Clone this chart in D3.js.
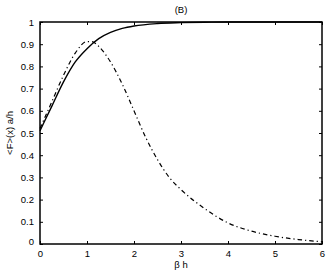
<!DOCTYPE html>
<html>
<head>
<meta charset="utf-8">
<script src="https://cdn.jsdelivr.net/npm/d3@7"></script>
<style>
  body { margin: 0; background: #fff; }
  text { font-family: "Liberation Sans", Arial, sans-serif; }
</style>
</head>
<body>
<svg></svg>
<script>
const width = 327;
const height = 275;

// values
const xSolid = [0, 0.25, 0.5, 0.75, 1, 1.25, 1.5, 1.75, 2, 2.5, 3, 3.5, 4, 5, 6];
const ySolid = [0.51, 0.62, 0.73, 0.82, 0.88, 0.925, 0.953, 0.971, 0.982, 0.993, 0.997, 0.999, 1, 1, 1];

const xDash = [0, 0.25, 0.5, 0.75, 1, 1.1, 1.25, 1.5, 1.75, 2, 2.25, 2.5, 2.75, 3, 3.5, 4, 4.5, 5, 5.5, 6];
const yDash = [0.52, 0.64, 0.76, 0.86, 0.912, 0.912, 0.89, 0.82, 0.72, 0.60, 0.48, 0.38, 0.30, 0.245, 0.16, 0.095, 0.058, 0.035, 0.02, 0.01];

const xTicks = [0, 1, 2, 3, 4, 5, 6];
const yTicks = [0, 0.1, 0.2, 0.3, 0.4, 0.5, 0.6, 0.7, 0.8, 0.9, 1];

const margin = { left: 40, right: 5, top: 22, bottom: 31 };

const x = d3.scaleLinear().domain([0, 6]).range([margin.left, width - margin.right]);
const y = d3.scaleLinear().domain([0, 1]).range([height - margin.bottom, margin.top]);

const svg = d3.select('svg')
  .attr('width', width)
  .attr('height', height);

// ticks inside the box, like matlab
const gx = svg.append('g')
  .attr('transform', `translate(0,${y(0)})`)
  .call(d3.axisBottom(x).tickValues(xTicks).tickSize(-3).tickPadding(6).tickFormat(d3.format('d')));
const gxTop = svg.append('g')
  .attr('transform', `translate(0,${y(1)})`)
  .call(d3.axisTop(x).tickValues(xTicks).tickSize(-3).tickFormat(''));
const gy = svg.append('g')
  .attr('transform', `translate(${x(0)},0)`)
  .call(d3.axisLeft(y).tickValues(yTicks).tickSize(-3).tickPadding(6).tickFormat(d => d3.format('~g')(d)));
const gyRight = svg.append('g')
  .attr('transform', `translate(${x(6)},0)`)
  .call(d3.axisRight(y).tickValues(yTicks).tickSize(-3).tickFormat(''));

[gx, gxTop, gy, gyRight].forEach(g => {
  g.select('.domain').remove();
  g.selectAll('line').attr('stroke', '#000').attr('stroke-width', 1);
  g.selectAll('text').attr('font-size', 9.5).attr('fill', '#000');
});

// corner "0" sits a little higher in the original
gy.selectAll('.tick text').filter(d => d === 0).attr('dy', '0.05em');

svg.append('rect')
  .attr('x', x(0))
  .attr('y', y(1))
  .attr('width', x(6) - x(0))
  .attr('height', y(0) - y(1))
  .attr('fill', 'none')
  .attr('stroke', '#000')
  .attr('stroke-width', 1.5);

const line = d3.line()
  .x(d => x(d[0]))
  .y(d => y(d[1]))
  .curve(d3.curveMonotoneX);

svg.append('path')
  .datum(d3.zip(xDash, yDash))
  .attr('d', line)
  .attr('fill', 'none')
  .attr('stroke', '#000')
  .attr('stroke-width', 1.2)
  .attr('stroke-dasharray', '4.5,3,1.2,3');

svg.append('path')
  .datum(d3.zip(xSolid, ySolid))
  .attr('d', line)
  .attr('fill', 'none')
  .attr('stroke', '#000')
  .attr('stroke-width', 1.4);

svg.append('text')
  .attr('x', x(3))
  .attr('y', 13)
  .attr('text-anchor', 'middle')
  .attr('font-size', 9.5)
  .text('(B)');

svg.append('text')
  .attr('x', x(3))
  .attr('y', 268)
  .attr('text-anchor', 'middle')
  .attr('font-size', 9.5)
  .text('β h');

svg.append('text')
  .attr('transform', `translate(13,${y(0.5)}) rotate(-90)`)
  .attr('text-anchor', 'middle')
  .attr('font-size', 9.5)
  .text('<F>(x) a/h');
</script>
</body>
</html>
